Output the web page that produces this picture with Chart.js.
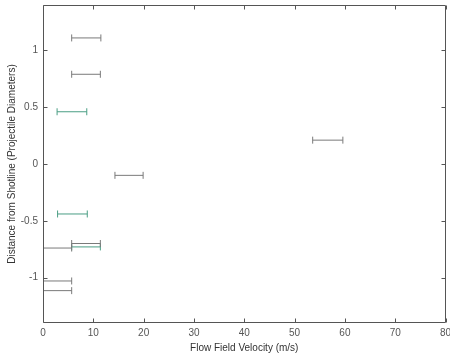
<!DOCTYPE html>
<html>
<head>
<meta charset="utf-8">
<script src="https://cdn.jsdelivr.net/npm/chart.js@4/dist/chart.umd.min.js"></script>
<style>
  html, body { margin: 0; padding: 0; background: #fff; }
  #chart { display: block; }
</style>
</head>
<body>
<canvas id="chart" width="450" height="360"></canvas>
<script>
// gray error bars: y position, x lower bound, x upper bound
const grayY    = [1.11, 0.79, -0.10, 0.21, -0.70, -0.74, -1.03, -1.115];
const grayLow  = [5.7,  5.7,  14.3,  53.6, 5.7,   -0.3,  -0.3,  -0.3];
const grayHigh = [11.5, 11.4, 19.9,  59.6, 11.4,  5.7,   5.7,   5.7];

// green error bars
const greenY    = [0.46, -0.44, -0.73];
const greenLow  = [2.8,  2.9,   5.7];
const greenHigh = [8.7,  8.8,   11.4];

const xTicks = [0, 10, 20, 30, 40, 50, 60, 70, 80];
const yTicks = [-1, -0.5, 0, 0.5, 1];

function barSets(ys, lows, highs, color) {
    return ys.map((y, i) => ({
        data: [{x: lows[i], y: y}, {x: highs[i], y: y}],
        borderColor: color,
        borderWidth: 1,
        pointStyle: 'line',
        rotation: 90,
        pointRadius: 3.5,
        pointBorderColor: color,
        pointBorderWidth: 1,
        pointHoverRadius: 3.5,
        showLine: true,
        fill: false
    }));
}

// box and inward ticks, matlab style
const boxPlugin = {
    id: 'box',
    afterDatasetsDraw(chart) {
        const {ctx, chartArea: a, scales} = chart;
        const l = Math.round(a.left) + 0.5, r = Math.round(a.right) - 0.5;
        const t = Math.round(a.top) + 0.5, b = Math.round(a.bottom) - 0.5;
        ctx.save();
        ctx.strokeStyle = '#555';
        ctx.lineWidth = 1;
        ctx.beginPath();
        ctx.moveTo(l, t); ctx.lineTo(r, t); ctx.lineTo(r, b); ctx.lineTo(l, b); ctx.closePath();
        xTicks.forEach(v => {
            const px = Math.round(scales.x.getPixelForValue(v)) + 0.5;
            ctx.moveTo(px, b); ctx.lineTo(px, b - 4);
            ctx.moveTo(px, t); ctx.lineTo(px, t + 4);
        });
        yTicks.forEach(v => {
            const py = Math.round(scales.y.getPixelForValue(v)) + 0.5;
            ctx.moveTo(l, py); ctx.lineTo(l + 4, py);
            ctx.moveTo(r, py); ctx.lineTo(r - 4, py);
        });
        ctx.stroke();
        ctx.restore();
    }
};

const font = {family: '"Liberation Sans", Arial, sans-serif', size: 10};

new Chart(document.getElementById('chart').getContext('2d'), {
    type: 'scatter',
    data: {
        datasets: barSets(grayY, grayLow, grayHigh, '#7a7a7a')
            .concat(barSets(greenY, greenLow, greenHigh, '#4a9e84'))
    },
    options: {
        responsive: false,
        animation: false,
        layout: {padding: {top: 5, right: 4, left: 6, bottom: 0}},
        plugins: {legend: {display: false}, tooltip: {enabled: false}},
        scales: {
            x: {
                type: 'linear',
                min: 0,
                max: 80,
                afterBuildTicks: s => { s.ticks = xTicks.map(v => ({value: v})); },
                afterFit: s => { s.height = 37; s.paddingLeft = 0; s.paddingRight = 0; },
                grid: {display: false, drawTicks: false},
                border: {display: false},
                ticks: {font: font, color: '#555', padding: 4, maxRotation: 0},
                title: {display: true, text: 'Flow Field Velocity (m/s)', font: font, color: '#333', padding: {top: 0, bottom: 6}}
            },
            y: {
                type: 'linear',
                min: -1.4,
                max: 1.4,
                afterBuildTicks: s => { s.ticks = yTicks.map(v => ({value: v})); },
                afterFit: s => { s.width = 37; s.paddingTop = 0; s.paddingBottom = 0; },
                grid: {display: false, drawTicks: false},
                border: {display: false},
                ticks: {font: font, color: '#555', padding: 5, callback: v => String(v)},
                title: {display: true, text: 'Distance from Shotline (Projectile Diameters)', font: font, color: '#333', padding: {top: 0, bottom: 2}}
            }
        }
    },
    plugins: [boxPlugin]
});
</script>
</body>
</html>
